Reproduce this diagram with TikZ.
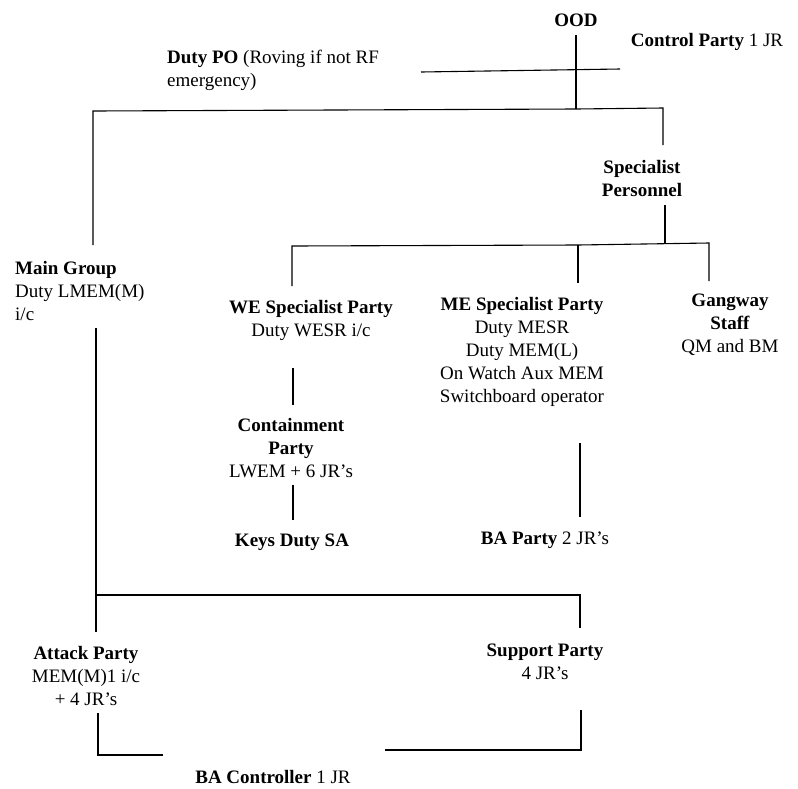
\documentclass[tikz,border=0pt]{standalone}
\usepackage{fontspec}
\setmainfont{Liberation Serif}
\begin{document}
\begin{tikzpicture}[x=1pt,y=-1pt,
  lbl/.style={inner sep=0pt,font=\fontsize{19}{23}\selectfont,align=center},
  lbll/.style={inner sep=0pt,font=\fontsize{19}{23}\selectfont,align=left},
  conn/.style={line width=1.1pt,line join=miter}]
\useasboundingbox (0,0) rectangle (798,788);
% nodes
\node[lbl] (ood) at (576,20) {\textbf{OOD}};
\node[lbl] (ctrl) at (707,42) {\textbf{Control Party} 1 JR};
\node[lbll,anchor=west] (dutypo) at (167,70) {\textbf{Duty PO} (Roving if not RF\\emergency)};
\node[lbl] (spec) at (642,178) {\textbf{Specialist}\\\textbf{Personnel}};
\node[lbll,anchor=west] (maingrp) at (15,291) {\textbf{Main Group}\\Duty LMEM(M)\\i/c};
\node[lbl] (we) at (311,320) {\textbf{WE Specialist Party}\\Duty WESR i/c};
\node[lbl] (cont) at (291,448) {\textbf{Containment}\\\textbf{Party}\\LWEM + 6 JR's};
\node[lbl] (keys) at (292,542) {\textbf{Keys Duty SA}};
\node[lbl] (me) at (522,352) {\textbf{ME Specialist Party}\\Duty MESR\\Duty MEM(L)\\On Watch Aux MEM\\Switchboard operator};
\node[lbl] (gang) at (730,325) {\textbf{Gangway}\\\textbf{Staff}\\QM and BM};
\node[lbl] (baparty) at (545,540) {\textbf{BA Party} 2 JR's};
\node[lbl] (support) at (545,662) {\textbf{Support Party}\\4 JR's};
\node[lbl] (attack) at (86,676) {\textbf{Attack Party}\\MEM(M)1 i/c\\+ 4 JR's};
\node[lbl] (bactrl) at (273,777) {\textbf{BA Controller} 1 JR};
% coordinates
\coordinate (oodb) at (576,35);
\coordinate (oodj) at (576,109);
\coordinate (cl) at (421,72);
\coordinate (cr) at (620,69);
\coordinate (tl) at (93,111);
\coordinate (tr) at (663,108);
\coordinate (specT) at (663,145);
\coordinate (mgT) at (93,245);
\coordinate (specB) at (665,205);
\coordinate (specJ) at (665,244);
\coordinate (wl) at (292,246);
\coordinate (weT) at (292,286);
\coordinate (gr) at (709,243);
\coordinate (gT) at (709,281);
\coordinate (mj) at (578,245);
\coordinate (meT) at (578,283);
\coordinate (weB) at (293,368);
\coordinate (contT) at (293,405);
\coordinate (contB) at (293,485);
\coordinate (keysT) at (293,520);
\coordinate (meB) at (580,443);
\coordinate (baT) at (580,517);
\coordinate (mgB) at (96,328);
\coordinate (lj) at (96,595);
\coordinate (attT) at (96,632);
\coordinate (rj) at (580,595);
\coordinate (supT) at (580,628);
\coordinate (attB) at (98,713);
\coordinate (attC) at (98,755);
\coordinate (attE) at (163,755);
\coordinate (supB) at (581,710);
\coordinate (supC) at (581,750);
\coordinate (supE) at (385,750);
% connectors
\draw[conn] (oodb) -- (oodj);
\draw[conn] (cl) -- (cr);
\draw[conn] (mgT) -- (tl) -- (oodj) -- (tr) -- (specT);
\draw[conn] (specB) -- (specJ);
\draw[conn] (weT) -- (wl) -- (mj) -- (gr) -- (gT);
\draw[conn] (mj) -- (meT);
\draw[conn] (weB) -- (contT);
\draw[conn] (contB) -- (keysT);
\draw[conn] (meB) -- (baT);
\draw[conn] (mgB) -- (attT);
\draw[conn] (lj) -- (rj) -- (supT);
\draw[conn] (attB) -- (attC) -- (attE);
\draw[conn] (supB) -- (supC) -- (supE);
\end{tikzpicture}
\end{document}
